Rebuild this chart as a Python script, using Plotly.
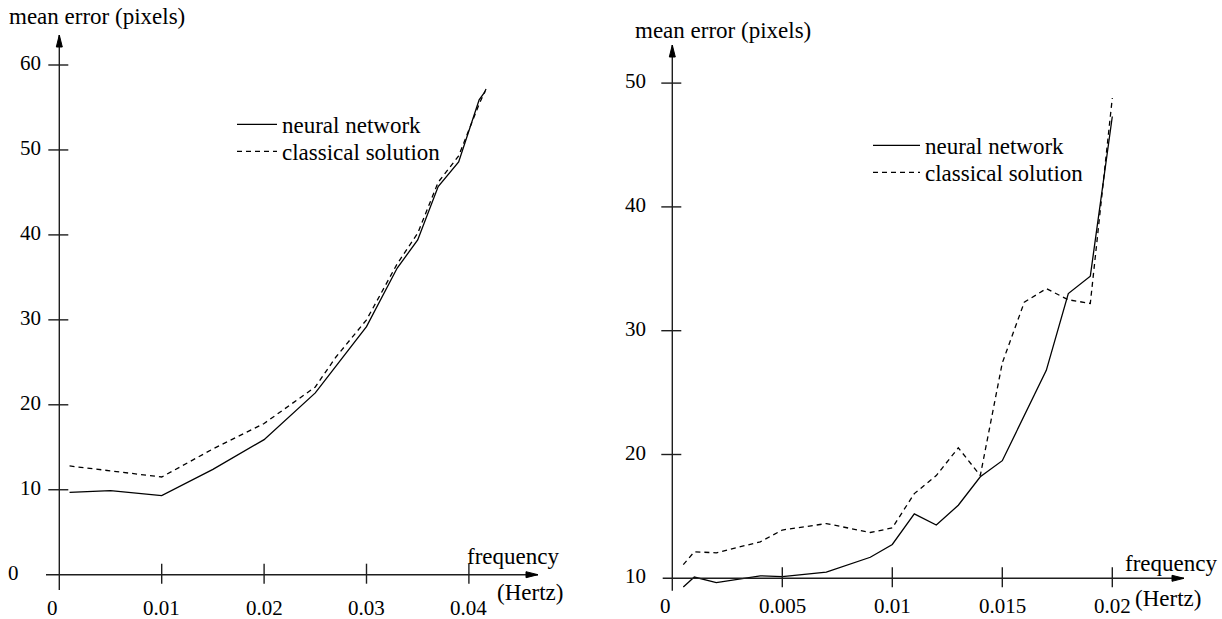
import plotly.graph_objects as go

# ---------------- data ----------------
series_names = ["neural network", "classical solution"]

left_x_nn = [0.001, 0.005, 0.010, 0.015, 0.020, 0.025, 0.030, 0.033, 0.035, 0.037, 0.039, 0.041, 0.0416]
left_y_nn = [9.7, 9.9, 9.3, 12.4, 15.9, 21.4, 29.2, 36.1, 39.4, 45.7, 48.6, 55.9, 56.9]
left_x_cl = [0.001, 0.005, 0.010, 0.015, 0.020, 0.025, 0.027, 0.030, 0.033, 0.035, 0.037, 0.039, 0.041, 0.0418]
left_y_cl = [12.8, 12.2, 11.5, 14.8, 17.8, 22.1, 25.6, 30.0, 36.6, 40.2, 46.2, 49.3, 55.4, 57.5]

right_x_nn = [0.0005, 0.001, 0.002, 0.004, 0.005, 0.007, 0.009, 0.010, 0.011, 0.012, 0.013, 0.014, 0.015, 0.017, 0.018, 0.019, 0.020]
right_y_nn = [9.3, 10.1, 9.65, 10.2, 10.13, 10.5, 11.7, 12.73, 15.2, 14.3, 15.9, 18.2, 19.5, 26.8, 33.0, 34.4, 47.3]
right_x_cl = [0.0005, 0.001, 0.002, 0.004, 0.005, 0.007, 0.009, 0.010, 0.011, 0.012, 0.013, 0.014, 0.015, 0.016, 0.017, 0.018, 0.019, 0.020]
right_y_cl = [11.1, 12.14, 12.06, 12.95, 13.9, 14.42, 13.7, 14.07, 16.84, 18.3, 20.54, 18.3, 27.4, 32.3, 33.4, 32.5, 32.2, 48.8]

left_xticks = [0.01, 0.02, 0.03, 0.04]
left_xtick_labels = ["0.01", "0.02", "0.03", "0.04"]
left_yticks = [10, 20, 30, 40, 50, 60]
left_ytick_labels = ["10", "20", "30", "40", "50", "60"]

right_xticks = [0.005, 0.01, 0.015, 0.02]
right_xtick_labels = ["0.005", "0.01", "0.015", "0.02"]
right_yticks = [20, 30, 40, 50]
right_ytick_labels = ["20", "30", "40", "50"]

y_title = "mean error (pixels)"
x_title = "frequency"
x_unit = "(Hertz)"

# ---------------- layout geometry ----------------
W, H = 1222, 619
FONT = "Liberation Serif, Times New Roman, serif"
FS = 23
TFS = 21

# pixel calibration of each panel (origin pixel and pixels per unit)
L = dict(x0=59.3, sx=10240.0, y0=574.7, sy=8.495, ybase=0.0, dom=(0, 600))
R = dict(x0=672.3, sx=22000.0, y0=578.3, sy=12.38, ybase=10.0, dom=(611, W))


def xr(p):
    a, b = p["dom"]
    return [(a - p["x0"]) / p["sx"], (b - p["x0"]) / p["sx"]]


def yr(p):
    return [p["ybase"] + (p["y0"] - H) / p["sy"], p["ybase"] + p["y0"] / p["sy"]]


fig = go.Figure()
line_nn = dict(color="black", width=1.3)
line_cl = dict(color="black", width=1.3, dash="5px,4px")

fig.add_trace(go.Scatter(x=left_x_nn, y=left_y_nn, mode="lines", name=series_names[0],
                         line=line_nn, xaxis="x", yaxis="y", legend="legend"))
fig.add_trace(go.Scatter(x=left_x_cl, y=left_y_cl, mode="lines", name=series_names[1],
                         line=line_cl, xaxis="x", yaxis="y", legend="legend2"))
fig.add_trace(go.Scatter(x=right_x_nn, y=right_y_nn, mode="lines", name=series_names[0],
                         line=line_nn, xaxis="x2", yaxis="y2", legend="legend3"))
fig.add_trace(go.Scatter(x=right_x_cl, y=right_y_cl, mode="lines", name=series_names[1],
                         line=line_cl, xaxis="x2", yaxis="y2", legend="legend4"))

shapes = []
annotations = []
AX = dict(color="rgb(30,30,30)", width=1.4)


def axes_decor(p, xa, ya, xticks, xlabels, yticks, ylabels, xext, yext,
               ylab_shift, zero_label, zero_xshift, zero_yshift, title_px, freq_px, hertz_px,
               xlab_yshift):
    xref, yref = xa, ya
    base = p["ybase"]
    # axis lines
    shapes.append(dict(type="line", xref=xref, yref=yref, x0=xext[0], x1=xext[1], y0=base, y1=base,
                       line=AX, layer="above"))
    shapes.append(dict(type="line", xref=xref, yref=yref, x0=0, x1=0, y0=yext[0], y1=yext[1],
                       line=AX, layer="above"))
    # arrow heads (pixel-sized, anchored at the axis tips)
    shapes.append(dict(type="path", xref=xref, yref=yref, xsizemode="pixel", ysizemode="pixel",
                       xanchor=0, yanchor=yext[1], path="M0,0 L-3,-12 L3,-12 Z",
                       fillcolor="black", line=dict(color="black", width=1)))
    shapes.append(dict(type="path", xref=xref, yref=yref, xsizemode="pixel", ysizemode="pixel",
                       xanchor=xext[1], yanchor=base, path="M0,0 L-12,-3 L-12,3 Z",
                       fillcolor="black", line=dict(color="black", width=1)))
    # ticks crossing the axes
    for t in xticks:
        shapes.append(dict(type="line", xref=xref, yref=yref, ysizemode="pixel", yanchor=base,
                           x0=t, x1=t, y0=-9, y1=11, line=AX))
    for t in yticks:
        shapes.append(dict(type="line", xref=xref, yref=yref, xsizemode="pixel", xanchor=0,
                           x0=-11, x1=9, y0=t, y1=t, line=AX))
    # tick labels
    for t, s in zip(xticks, xlabels):
        annotations.append(dict(xref=xref, yref=yref, x=t, y=base, text=s, showarrow=False,
                                yshift=xlab_yshift, xanchor="center", yanchor="middle",
                                font=dict(family=FONT, size=TFS, color="black")))
    annotations.append(dict(xref=xref, yref=yref, x=0, y=base, text="0", showarrow=False,
                            yshift=xlab_yshift, xshift=-7, xanchor="center", yanchor="middle",
                            font=dict(family=FONT, size=TFS, color="black")))
    for t, s in zip(yticks, ylabels):
        annotations.append(dict(xref=xref, yref=yref, x=0, y=t, text=s, showarrow=False,
                                xshift=ylab_shift, yshift=2, xanchor="right", yanchor="middle",
                                font=dict(family=FONT, size=TFS, color="black")))
    annotations.append(dict(xref=xref, yref=yref, x=0, y=base, text=zero_label, showarrow=False,
                            xshift=zero_xshift, yshift=zero_yshift, xanchor="right", yanchor="middle",
                            font=dict(family=FONT, size=TFS, color="black")))
    # titles
    for txt, (px, py) in ((y_title, title_px), (x_title, freq_px), (x_unit, hertz_px)):
        annotations.append(dict(xref="paper", yref="paper", x=px / W, y=1 - py / H, text=txt,
                                showarrow=False, xanchor="left", yanchor="middle",
                                font=dict(family=FONT, size=FS, color="black")))


# extents of the drawn axes (data units of each panel)
left_x_ext = [(46 - L["x0"]) / L["sx"], (538 - L["x0"]) / L["sx"]]
left_y_ext = [(L["y0"] - 590) / L["sy"], (L["y0"] - 35) / L["sy"]]
right_x_ext = [(662.7 - R["x0"]) / R["sx"], (1184 - R["x0"]) / R["sx"]]
right_y_ext = [10 + (R["y0"] - 590.7) / R["sy"], 10 + (R["y0"] - 45) / R["sy"]]

axes_decor(L, "x", "y", left_xticks, left_xtick_labels, left_yticks, left_ytick_labels,
           left_x_ext, left_y_ext, -16, "0", -38, 2, (7, 17), (465, 556), (495, 592), -33)
axes_decor(R, "x2", "y2", right_xticks, right_xtick_labels, right_yticks, right_ytick_labels,
           right_x_ext, right_y_ext, -24, "10", -24, 2, (633, 30), (1123, 563), (1133, 598), -28)


def leg(xpx, ytop):
    return dict(x=xpx / W, y=1 - ytop / H, xanchor="left", yanchor="top", bgcolor="rgba(0,0,0,0)",
                font=dict(family=FONT, size=FS, color="black"), itemwidth=40, tracegroupgap=0)


fig.update_layout(
    width=W, height=H,
    margin=dict(l=0, r=0, t=0, b=0),
    paper_bgcolor="white", plot_bgcolor="white",
    font=dict(family=FONT, size=FS, color="black"),
    xaxis=dict(domain=[L["dom"][0] / W, L["dom"][1] / W], range=xr(L), visible=False, fixedrange=True),
    yaxis=dict(domain=[0, 1], range=yr(L), visible=False, fixedrange=True),
    xaxis2=dict(domain=[R["dom"][0] / W, R["dom"][1] / W], range=xr(R), visible=False, fixedrange=True),
    yaxis2=dict(domain=[0, 1], range=yr(R), visible=False, fixedrange=True, anchor="x2"),
    legend=leg(232, 103),
    legend2=leg(232, 130),
    legend3=dict(leg(868, 124), itemwidth=47),
    legend4=dict(leg(868, 151), itemwidth=47),
    shapes=shapes,
    annotations=annotations,
    showlegend=True,
)

fig.write_html("out.html", config={"displayModeBar": False},
               post_script="document.body.style.margin='0';")
